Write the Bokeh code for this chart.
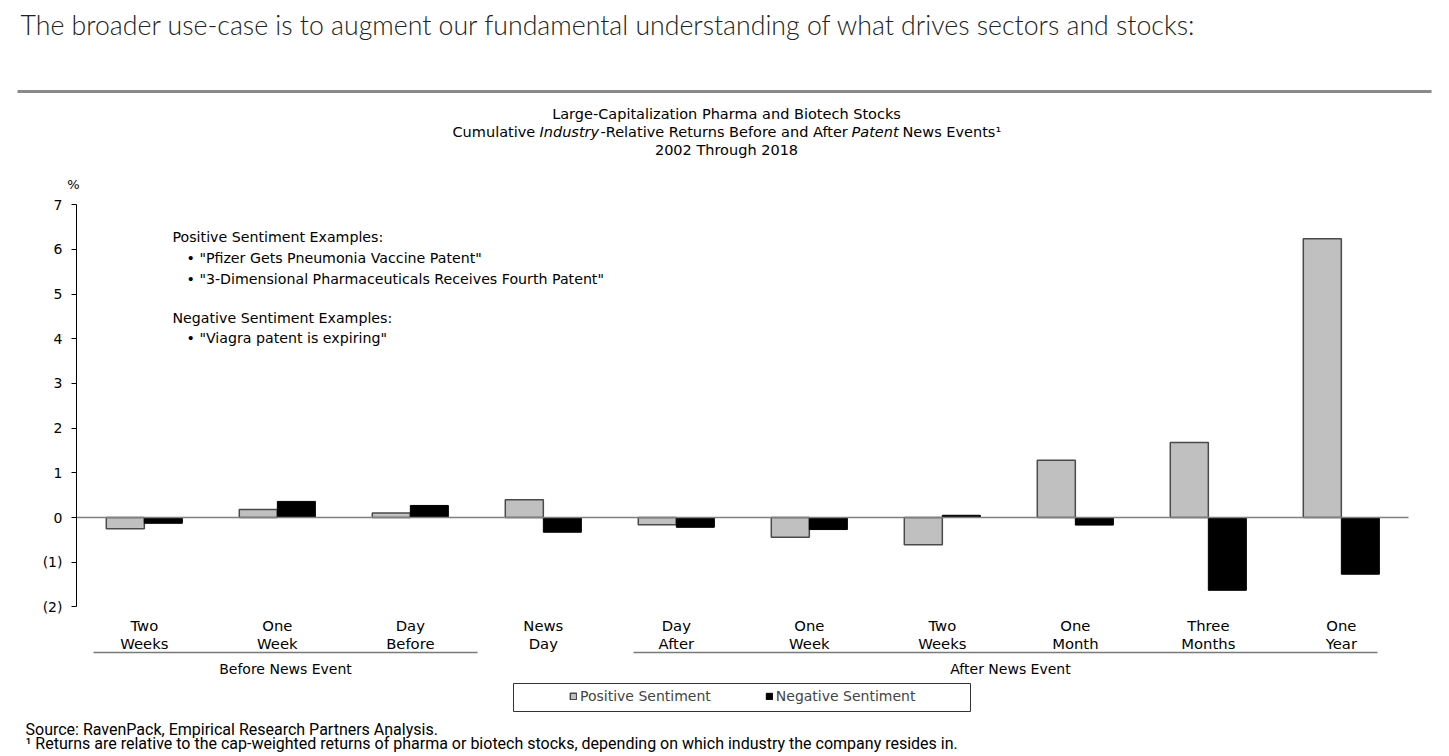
from bokeh.plotting import figure
from bokeh.models import Range1d, FixedTicker, Legend, LegendItem, LinearAxis
from bokeh.core.properties import value
from bokeh.embed import file_html
from bokeh.resources import INLINE

# ---------------- data ----------------
categories = ["Two\nWeeks", "One\nWeek", "Day\nBefore", "News\nDay", "Day\nAfter",
              "One\nWeek", "Two\nWeeks", "One\nMonth", "Three\nMonths", "One\nYear"]
positive = [-0.25, 0.18, 0.10, 0.40, -0.16, -0.44, -0.61, 1.28, 1.68, 6.24]
negative = [-0.13, 0.36, 0.27, -0.33, -0.22, -0.27, 0.05, -0.17, -1.63, -1.27]
y_ticks = [-2, -1, 0, 1, 2, 3, 4, 5, 6, 7]
y_tick_labels = ["(2)", "(1)", "0", "1", "2", "3", "4", "5", "6", "7"]
series_names = ["Positive Sentiment", "Negative Sentiment"]
groups = ["Before News Event", "After News Event"]

FONT = "DejaVu Sans"
W, H = 1445, 755

# page-pixel layout helpers (layout only; data go through the scales)
Y0_PX, PPY = 517.0, 44.67      # zero line, pixels per unit
X0_PX, PPX, XSTART = 76.0, 133.0, -0.51


def X(px):
    return XSTART + (px - X0_PX) / PPX


def Y(py):
    return (Y0_PX - py) / PPY


p = figure(width=W, height=H, output_backend="svg", toolbar_location=None,
           x_range=Range1d(X(0), X(W)), y_range=Range1d(Y(H), Y(0)),
           min_border=0, x_axis_location=None, y_axis_location=None)
p.outline_line_color = None
p.grid.visible = False
p.background_fill_color = "white"

ya = LinearAxis(fixed_location=X(76))
ya.ticker = FixedTicker(ticks=y_ticks)
ya.bounds = (min(y_ticks), max(y_ticks))
ya.major_label_overrides = {t: l for t, l in zip(y_ticks, y_tick_labels)}
ya.major_tick_out = 5
ya.major_tick_in = 0
ya.minor_tick_out = 0
ya.minor_tick_in = 0
ya.axis_line_color = "black"
ya.major_tick_line_color = "black"
ya.major_label_standoff = 9
ya.major_label_text_font = FONT
ya.major_label_text_font_size = "14px"
ya.major_label_text_color = "black"
p.add_layout(ya, "left")

# header text and rule
p.text(x=[X(20)], y=[Y(24)],
       text=["The broader use-case is to augment our fundamental understanding of what drives sectors and stocks:"],
       text_font=value("Lato Light"), text_font_size="26.7px", text_color="#222222",
       text_baseline="middle", text_align="left")
p.segment(x0=[X(17)], y0=[Y(91)], x1=[X(1431)], y1=[Y(91)], line_width=3, line_color="#8a8a8a")

idx = list(range(len(categories)))
bw = 0.286
r_pos = p.vbar(x=[i - bw / 2 for i in idx], top=positive, bottom=0, width=bw,
               fill_color="#c0c0c0", line_color="#4a4a4a", line_width=1.5)
r_neg = p.vbar(x=[i + bw / 2 for i in idx], top=negative, bottom=0, width=bw,
               fill_color="black", line_color="black", line_width=1)

# zero line
p.segment(x0=[X(76)], y0=[0], x1=[X(1408)], y1=[0], line_color="#808080", line_width=1.3)

# category labels
top_lines = [c.split("\n")[0] for c in categories]
bot_lines = [c.split("\n")[1] for c in categories]
p.text(x=idx, y=[Y(625)] * len(idx), text=top_lines, text_font=value(FONT),
       text_font_size="14.8px", text_align="center", text_baseline="middle", text_color="black")
p.text(x=idx, y=[Y(643)] * len(idx), text=bot_lines, text_font=value(FONT),
       text_font_size="14.8px", text_align="center", text_baseline="middle", text_color="black")

# group underlines and labels
p.segment(x0=[X(93), X(633)], y0=[Y(652)] * 2, x1=[X(477), X(1377)], y1=[Y(652)] * 2,
          line_color="#7a7a7a", line_width=1.5)
p.text(x=[X(285), X(1010)], y=[Y(668)] * 2, text=groups,
       text_font=value(FONT), text_font_size="14px", text_align="center",
       text_baseline="middle", text_color="black")

# title
TSZ = "14.5px"
p.text(x=[X(726)], y=[Y(113)], text=["Large-Capitalization Pharma and Biotech Stocks"],
       text_font=value(FONT), text_font_size=TSZ, text_align="center",
       text_baseline="middle", text_color="black")
segs = [("Cumulative ", 452, "normal"), ("Industry", 539, "italic"),
        ("-Relative Returns Before and After ", 600, "normal"), ("Patent", 851, "italic"),
        ("News Events\u00b9", 902, "normal")]
for t, xp, st in segs:
    p.text(x=[X(xp)], y=[Y(131)], text=[t], text_font=value(FONT), text_font_size=TSZ,
           text_font_style=st, text_align="left", text_baseline="middle", text_color="black")
p.text(x=[X(726)], y=[Y(149)], text=["2002 Through 2018"],
       text_font=value(FONT), text_font_size=TSZ, text_align="center",
       text_baseline="middle", text_color="black")

# examples
notes = [("Positive Sentiment Examples:", 172, 236),
         ("\u2022 \"Pfizer Gets Pneumonia Vaccine Patent\"", 186, 257),
         ("\u2022 \"3-Dimensional Pharmaceuticals Receives Fourth Patent\"", 186, 278),
         ("Negative Sentiment Examples:", 172, 317),
         ("\u2022 \"Viagra patent is expiring\"", 186, 337)]
p.text(x=[X(n[1]) for n in notes], y=[Y(n[2]) for n in notes], text=[n[0] for n in notes],
       text_font=value(FONT), text_font_size="14.2px", text_align="left",
       text_baseline="middle", text_color="black")

# legend box + legend
p.quad(left=[X(513)], right=[X(970)], top=[Y(683)], bottom=[Y(711)],
       fill_color="white", line_color="#333333", line_width=1)
legend = Legend(items=[LegendItem(label=series_names[0], renderers=[r_pos]),
                       LegendItem(label=series_names[1], renderers=[r_neg])],
                orientation="horizontal", location=(569, H - 704),
                glyph_width=8, glyph_height=8, label_standoff=3, spacing=54,
                padding=0, margin=0, border_line_color=None, background_fill_alpha=0,
                label_text_font=FONT, label_text_font_size="14px", label_height=14,
                label_text_baseline="middle")
p.add_layout(legend, "center")

# % label and footnotes
p.text(x=[X(73)], y=[Y(184)], text=["%"], text_font=value(FONT), text_font_size="13px",
       text_align="center", text_baseline="middle", text_color="black")
foot = ["Source: RavenPack, Empirical Research Partners Analysis.",
        "\u00b9 Returns are relative to the cap-weighted returns of pharma or biotech stocks, depending on which industry the company resides in."]
p.text(x=[X(25), X(25)], y=[Y(729), Y(743)], text=foot, text_font=value("Roboto"),
       text_font_size="16px", text_align="left", text_baseline="middle", text_color="black")

open("out.html", "w").write(file_html(p, INLINE))
